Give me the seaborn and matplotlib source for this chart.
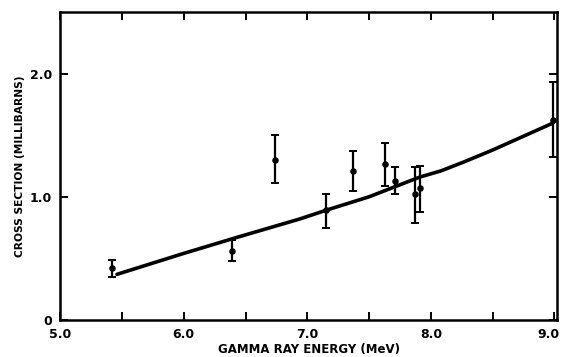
import matplotlib
matplotlib.use("Agg")
import matplotlib.pyplot as plt
import matplotlib.transforms as mtrans
import seaborn as sns
import pandas as pd

energy = [5.42, 6.39, 6.74, 7.15, 7.37, 7.63, 7.71, 7.87, 7.91, 8.99]
sigma = [0.42, 0.56, 1.30, 0.89, 1.21, 1.27, 1.13, 1.02, 1.07, 1.62]
err_lo = [0.07, 0.08, 0.19, 0.14, 0.16, 0.18, 0.11, 0.23, 0.19, 0.30]
err_hi = [0.07, 0.09, 0.20, 0.13, 0.16, 0.17, 0.11, 0.22, 0.18, 0.31]

# theory curve
curve_e = [5.46, 6.0, 6.43, 6.94, 7.15, 7.5, 7.91, 8.08, 8.26, 8.5, 8.99]
curve_s = [0.37, 0.54, 0.67, 0.82, 0.89, 1.00, 1.16, 1.21, 1.28, 1.38, 1.60]

x_ticks = [5.0, 5.5, 6.0, 6.5, 7.0, 7.5, 8.0, 8.5, 9.0]
x_labels = ["5.0", "", "6.0", "", "7.0", "", "8.0", "", "9.0"]
y_ticks = [0, 1.0, 2.0]
y_labels = ["0", "1.0", "2.0"]

sns.set_style("ticks")
plt.rcParams["font.family"] = ["DejaVu Sans"]

fig = plt.figure(figsize=(5.62, 3.57), dpi=100)
ax = fig.add_axes([0.107, 0.104, 0.884, 0.862])

pts = pd.DataFrame({"energy": energy, "sigma": sigma})
line = pd.DataFrame({"energy": curve_e, "sigma": curve_s})

sns.lineplot(data=line, x="energy", y="sigma", color="black", linewidth=2.6, ax=ax)
ax.errorbar(energy, sigma, yerr=[err_lo, err_hi], fmt="none", ecolor="black",
            elinewidth=1.6, capsize=3, capthick=1.4)
sns.scatterplot(data=pts, x="energy", y="sigma", color="black", s=22,
                edgecolor="black", linewidth=0, ax=ax, zorder=5)

ax.set_xlim(5.0, 9.02)
ax.set_ylim(0, 2.5)
ax.set_xticks(x_ticks)
ax.set_xticklabels(x_labels, fontsize=9, fontweight="bold", color="black")
ax.set_yticks(y_ticks)
ax.set_yticklabels(y_labels, fontsize=9, fontweight="bold", color="black")
ax.tick_params(direction="in", length=6, width=1.4, top=True, right=True,
               pad=6, color="black")
for s in ax.spines.values():
    s.set_linewidth(1.8)
    s.set_color("black")

# the last x label sits at the right edge; nudge it in a little
last = ax.get_xticklabels()[-1]
last.set_transform(last.get_transform() + mtrans.ScaledTranslation(-6 / 100, 0, fig.dpi_scale_trans))

ax.set_xlabel("GAMMA RAY ENERGY (MeV)", fontsize=8.5, fontweight="bold",
              labelpad=1, color="black")
ax.set_ylabel("CROSS SECTION (MILLIBARNS)", fontsize=7.7, fontweight="bold",
              labelpad=3, color="black")

fig.savefig("out.png", dpi=100)
